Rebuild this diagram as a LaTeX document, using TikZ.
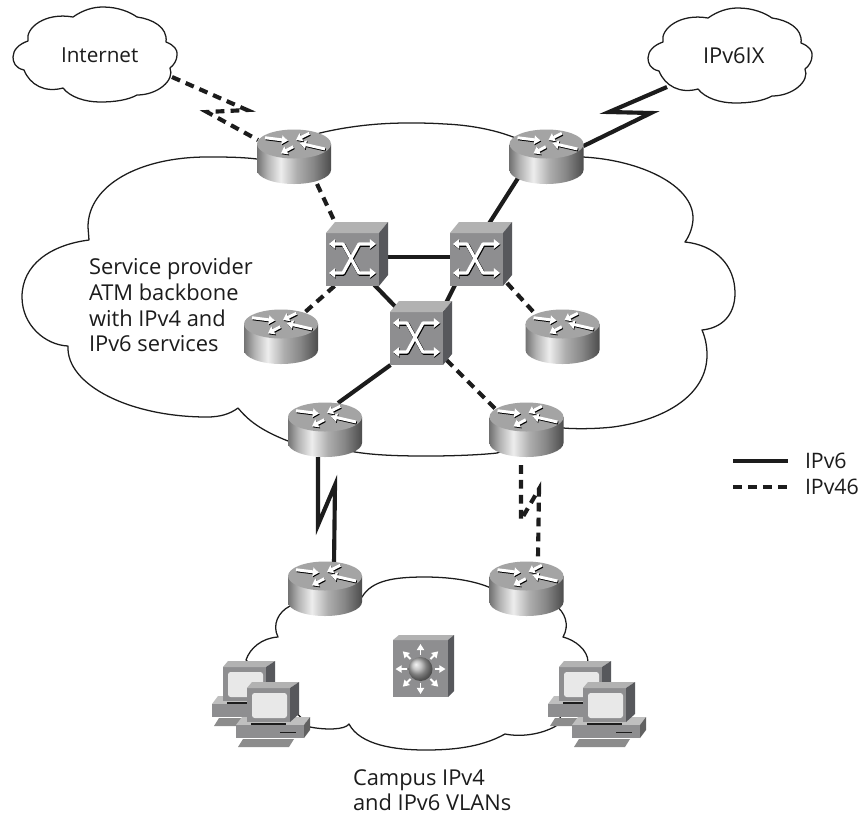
\documentclass[tikz,border=0pt]{standalone}
\usepackage{fontspec}
\setmainfont{Open Sans}
\usetikzlibrary{arrows.meta}
\pgfdeclarehorizontalshading{routerbody}{100bp}{
  color(0bp)=(rgb:black,1;white,1);
  color(25bp)=(rgb:black,55;white,45);
  color(32bp)=(rgb:black,30;white,70);
  color(41bp)=(rgb:black,7;white,93);
  color(52bp)=(rgb:black,32;white,68);
  color(63bp)=(rgb:black,47;white,53);
  color(75bp)=(rgb:black,70;white,30);
  color(100bp)=(rgb:black,70;white,30)}
\definecolor{ink}{HTML}{1C1C1C}
\definecolor{faceg}{HTML}{8E8E90}
\definecolor{topg}{HTML}{B2B2B2}
\definecolor{sideg}{HTML}{57585C}
\tikzset{
  routerbox/.style={rectangle,inner sep=0pt,outer sep=0pt,minimum width=55.5pt,minimum height=40.5pt},
  switchbox/.style={rectangle,inner sep=0pt,outer sep=0pt,minimum width=39.75pt,minimum height=39.75pt},
  label text/.style={inner sep=0pt,outer sep=0pt,align=left,text=ink,font=\fontsize{16.4}{19.2}\selectfont},
  cloudline/.style={draw=ink,line width=0.95pt,line join=round},
  v6/.style={draw=ink,line width=3.1pt,miter limit=20},
  v46/.style={draw=ink,line width=3.1pt,dash pattern=on 6.6pt off 4.6pt,miter limit=20},
  icon tip/.style={-{Triangle[length=4.6pt,width=6.4pt]}},
  icon tips/.style={{Triangle[length=4.6pt,width=7pt]}-{Triangle[length=4.6pt,width=7pt]}},
  routerpic/.pic={
    \shade[shading=routerbody] (-37,0) -- (-37,26) .. controls (-37,33.7) and (-20.4,40) .. (0,40)
      .. controls (20.4,40) and (37,33.7) .. (37,26) -- (37,0) -- cycle;
    \fill[topg!92!black] (0,0) ellipse [x radius=37,y radius=14.5];
    \foreach \ax/\ay/\bx/\by in {-29/-6.3/-6/-3.4,31/5/6/-0.7,15.3/-10.7/2/-4,-0.7/2.7/-13/9.3}{
      \draw[black,line width=2.3pt,icon tip] (\ax+0.7,\ay+1) -- (\bx+0.7,\by+1);
      \draw[white,line width=2.2pt,icon tip] (\ax,\ay) -- (\bx,\by);
    }
  },
  atmpic/.pic={
    \fill[faceg] (0,0) rectangle (53,53);
    \fill[topg] (0,0) -- (9,-11) -- (62,-11) -- (53,0) -- cycle;
    \fill[sideg] (53,0) -- (62,-11) -- (62,42) -- (53,53) -- cycle;
    \foreach \dx/\dy/\col/\wid in {0.6/0.9/black/2.9,0/0/white/2.4}{
      \begin{scope}[shift={(\dx,\dy)}]
        \draw[\col,line width=\wid pt,icon tips,line join=round] (3,11) -- (17,11) -- (33,40) -- (50,40);
        \draw[\col,line width=\wid pt,icon tips,line join=round] (3,40) -- (17,40) -- (33,11) -- (50,11);
      \end{scope}
    }
  },
  l3pic/.pic={
    \fill[faceg] (-27.5,-29) rectangle (27.5,28);
    \fill[topg] (-27.5,-29) -- (-21.5,-34) -- (33.5,-34) -- (27.5,-29) -- cycle;
    \fill[sideg] (27.5,-29) -- (33.5,-34) -- (33.5,22) -- (27.5,28) -- cycle;
    \foreach \ang in {0,45,...,315}{
      \draw[white,line width=1.4pt,-{Triangle[length=4.6pt,width=5.4pt]}] (\ang:14) -- (\ang:25);
    }
    \shade[ball color=black!30] (0,0) circle [radius=12];
  },
  pcunit/.pic={
    \fill[black!45] (238,747) -- (289,747) -- (294,739) -- (243,739) -- cycle;
    \fill[black!25] (236,725) -- (304,725) -- (310,717) -- (242,717) -- cycle;
    \fill[faceg] (236,725) rectangle (304,738);
    \fill[black!62] (304,725) -- (310,717) -- (310,730) -- (304,738) -- cycle;
    \draw[ink,line width=0.6pt] (280,732) -- (296,732);
    \draw[ink,line width=1.2pt] (251,724) -- (286,724);
    \fill[faceg] (247,688) rectangle (290,722);
    \fill[topg] (247,688) -- (252,682) -- (299,682) -- (290,688) -- cycle;
    \fill[sideg] (290,688) -- (299,682) -- (299,714) -- (290,722) -- cycle;
    \fill[black!9,rounded corners=2pt] (252,693) rectangle (287,718);
  },
  pcpair/.pic={
    \pic[shift={(-24,-21)}] {pcunit};
    \pic {pcunit};
  },
  smallcloud/.pic={
    \draw[cloudline,fill=white] (73,17) .. controls (83,10) and (93,7) .. (103,7) .. controls (118,7) and (130,12) .. (137,17)
      .. controls (152,19) and (168,27) .. (166,42)
      .. controls (174,45) and (178,50) .. (177,55) .. controls (177,60) and (174,65) .. (170,68)
      .. controls (175,80) and (158,95) .. (137,95)
      .. controls (128,100) and (115,102) .. (100,102) .. controls (85,102) and (70,97) .. (63,88)
      .. controls (45,93) and (30,85) .. (24,70)
      .. controls (15,68) and (13,62) .. (13,57) .. controls (13,50) and (19,44) .. (28,41)
      .. controls (25,28) and (45,12) .. (73,17) -- cycle;
  }
}
\begin{document}
\begin{tikzpicture}[x=0.75pt,y=-0.75pt]
\useasboundingbox (0,0) rectangle (860,815);
\fill[white] (0,0) rectangle (860,815);

% clouds
\draw[cloudline] (257,159) .. controls (240,157) and (225,157) .. (207,157)
  .. controls (140,157) and (88,185) .. (88,227) -- (89,240)
  .. controls (50,245) and (22,265) .. (22,297) .. controls (22,325) and (45,345) .. (68,346)
  .. controls (66,385) and (130,417) .. (207,417) .. controls (220,417) and (230,414) .. (238,408)
  .. controls (248,420) and (260,430) .. (288,441) -- (355,452)
  .. controls (380,456) and (410,456) .. (430,456) .. controls (450,456) and (480,455) .. (497,453)
  -- (563,428) .. controls (575,429) and (595,429) .. (613,427)
  .. controls (665,420) and (707,395) .. (707,355) .. controls (707,345) and (705,337) .. (702,330)
  .. controls (722,328) and (735,315) .. (735,293) .. controls (735,265) and (715,245) .. (685,242)
  .. controls (690,235) and (693,226) .. (693,218) .. controls (693,185) and (640,160) .. (583,157)
  -- (513,137) .. controls (495,130) and (470,125) .. (445,124)
  .. controls (430,123) and (420,123) .. (407,123) .. controls (375,123) and (345,127) .. (320,133)
  -- cycle;
\draw[cloudline] (362,597) .. controls (372,580) and (395,577) .. (425,577)
  .. controls (455,577) and (480,582) .. (495,590) -- (555,605)
  .. controls (565,612) and (570,625) .. (563,637)
  .. controls (575,640) and (588,650) .. (588,662) -- (556,726)
  .. controls (540,735) and (520,737) .. (505,734)
  .. controls (480,748) and (450,750) .. (425,750) .. controls (395,750) and (360,745) .. (349,724)
  .. controls (345,730) and (325,730) .. (310,727) -- (246,660)
  .. controls (250,648) and (262,638) .. (278,637)
  .. controls (272,625) and (278,612) .. (290,606) -- cycle;
\pic at (0,0) {smallcloud};
\pic[shift={(635,1)}] at (0,0) {smallcloud};

% labels
\node[label text,anchor=base west,font=\fontsize{15.5}{19.2}\selectfont] (inet) at (61,62) {Internet};
\node[label text,anchor=base west] (ix) at (703,63) {IPv6IX};
\node[label text,anchor=west] (sp) at (89,305) {Service provider\\ATM backbone\\with IPv4 and\\IPv6 services};
\node[label text,anchor=west] (campus) at (353,790) {Campus IPv4\\and IPv6 VLANs};
\node[label text,anchor=base west,font=\fontsize{16}{19.2}\selectfont] (lg6) at (805,468) {IPv6};
\node[label text,anchor=base west,font=\fontsize{16}{19.2}\selectfont] (lg46) at (805,494) {IPv46};

% device boxes
\node[routerbox] (r1) at (294,157) {};
\node[routerbox] (r2) at (546.5,157) {};
\node[routerbox] (rm1) at (281,337) {};
\node[routerbox] (rm2) at (562.5,337) {};
\node[routerbox] (rb1) at (325,430) {};
\node[routerbox] (rb2) at (526.5,430) {};
\node[routerbox] (rc1) at (325,589) {};
\node[routerbox] (rc2) at (526.5,589) {};
\node[switchbox] (sw1) at (352.5,259.5) {};
\node[switchbox] (sw2) at (476,259.5) {};
\node[switchbox] (sw3) at (416.5,338.5) {};

% free ends and bends
\coordinate (inetedge) at (172,77);
\coordinate (ixedge) at (667,87);
\coordinate (zA) at (247,110);
\coordinate (zB) at (207,112);
\coordinate (zC) at (651,113);
\coordinate (zD) at (609,112);
\coordinate (zE) at (318,525);
\coordinate (zF) at (335,485);
\coordinate (zG) at (521,520);
\coordinate (zH) at (539,489);
\coordinate (lg6a) at (733,461);
\coordinate (lg6b) at (788,461);
\coordinate (lg46a) at (733,487);
\coordinate (lg46b) at (788,487);

% connectors
\draw[v46] (inetedge) -- (zA) -- (zB) -- ([shift={(-36,10)}]r1.north);
\draw[v46] ([shift={(23,0)}]r1.south) -- ([shift={(-12.5,0)}]sw1.north);
\draw[v6] ([shift={(0,-11)}]r2.east) -- (zC) -- (zD) -- (ixedge);
\draw[v6] ([shift={(-26.5,-9)}]r2.south) -- ([shift={(7,0)}]sw2.north);
\draw[v6] ([shift={(0,-2.5)}]sw1.east) -- ([shift={(0,-2.5)}]sw2.west);
\draw[v6] ([shift={(20,-3)}]sw1.south) -- ([shift={(-16,0)}]sw3.north);
\draw[v46] ([shift={(-18,0)}]sw1.south) -- ([shift={(23,3)}]rm1.north);
\draw[v6] ([shift={(-20,-3)}]sw2.south) -- ([shift={(25,0)}]sw3.north);
\draw[v46] ([shift={(31,-3)}]sw2.south) -- ([shift={(-29,2)}]rm2.north);
\draw[v6] ([shift={(-26,0)}]sw3.south) -- ([shift={(13,0)}]rb1.north);
\draw[v46] ([shift={(30,-5)}]sw3.south) -- ([shift={(-31,6)}]rb2.north);
\draw[v6] ([shift={(-7,0)}]rb1.south) -- (zE) -- (zF) -- ([shift={(9,2)}]rc1.north);
\draw[v46] ([shift={(-5.5,8)}]rb2.south) -- (zG) -- (zH) -- ([shift={(11.5,-4)}]rc2.north);
\draw[v6] (lg6a) -- (lg6b);
\draw[v46] (lg46a) -- (lg46b);

% devices
\foreach \px/\py in {294/144,546.5/144,281/324,562.5/324,325/417,526.5/417,325/576,526.5/576}{
  \pic at (\px,\py) {routerpic};
}
\pic at (326,233) {atmpic};
\pic at (450,233) {atmpic};
\pic at (390,312) {atmpic};
\pic at (420.5,669) {l3pic};
\pic at (0,0) {pcpair};
\pic at (336,0) {pcpair};
\end{tikzpicture}
\end{document}
